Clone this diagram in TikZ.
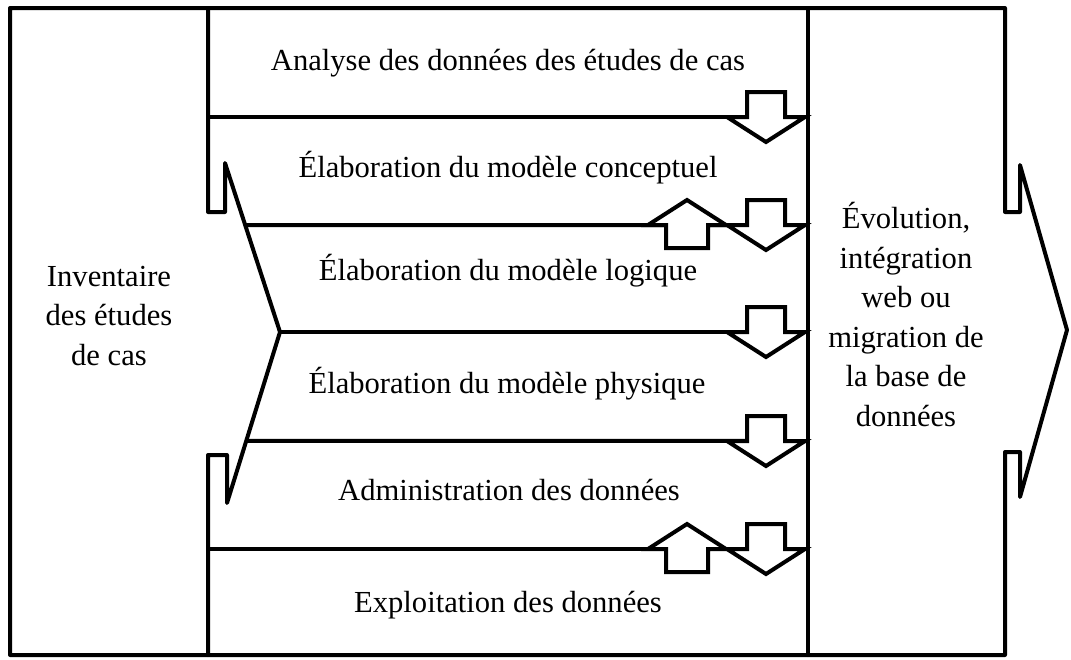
\documentclass[tikz,border=0pt]{standalone}
\usepackage{fontspec}
\setmainfont{Liberation Serif}
\usetikzlibrary{calc}
\begin{document}
\begin{tikzpicture}[x=1pt,y=-1pt,
  frame/.style={line width=4pt,line join=round,line cap=round},
  sep/.style={line width=4pt},
  arrowbox/.style={line width=4pt,line join=miter,fill=white},
  lbl/.style={font=\fontsize{30.6}{39.5}\selectfont,inner sep=0pt,anchor=base,align=center},
  downarr/.pic={\draw[arrowbox] (-19,-25) -- (19,-25) -- (19,0) -- (39,0) -- (0,25) -- (-39,0) -- (-19,0) -- cycle;},
  uparr/.pic={\draw[arrowbox] (0,-25) -- (39,0) -- (21,0) -- (21,23) -- (-21,23) -- (-21,0) -- (-39,0) -- cycle;}]
\useasboundingbox (0,0) rectangle (1071,659);
% outer frame with right chevron
\draw[frame] (1005,8) -- (10,8) -- (10,655) -- (1005,655) -- (1005,452) -- (1020,452) -- (1020,497)
  -- (1067,330) -- (1020,165) -- (1020,212) -- (1005,212) -- cycle;
% middle column
\coordinate (apex) at (280,332);
\coordinate (tipA) at (225,163);
\coordinate (tipB) at (227,503);
\draw[frame] (208,8) -- (208,212) -- (225,212) -- (tipA) -- (apex) -- (tipB) -- (227,455) -- (208,455) -- (208,655);
\draw[frame] (808,8) -- (808,655);
% separators
\coordinate (r1) at (808,117);
\coordinate (r2) at (808,225);
\coordinate (r3) at (808,332);
\coordinate (r4) at (808,441);
\coordinate (r5) at (808,549);
\draw[sep] (208,117) -- (r1);
\draw[sep] ($(tipA)!0.367!(apex)$) -- (r2);
\draw[sep] (apex) -- (r3);
\draw[sep] ($(apex)!0.637!(tipB)$) -- (r4);
\draw[sep] (208,549) -- (r5);
% block arrows
\foreach \yy in {117,225,332,441,549} { \pic at (766,\yy) {downarr}; }
\pic at (687,225) {uparr};
\pic at (687,549) {uparr};
% texts
\node[lbl] (t1) at (508,70) {Analyse des données des études de cas};
\node[lbl] (t2) at (508,177) {Élaboration du modèle conceptuel};
\node[lbl] (t3) at (508,280) {Élaboration du modèle logique};
\node[lbl] (t4) at (507,393) {Élaboration du modèle physique};
\node[lbl] (t5) at (509,500) {Administration des données};
\node[lbl] (t6) at (508,612) {Exploitation des données};
\node[lbl] (inv) at (109,365) {Inventaire\\des études\\de cas};
\node[lbl] (evo) at (906,426) {Évolution,\\intégration\\web ou\\migration de\\la base de\\données};
\end{tikzpicture}
\end{document}
